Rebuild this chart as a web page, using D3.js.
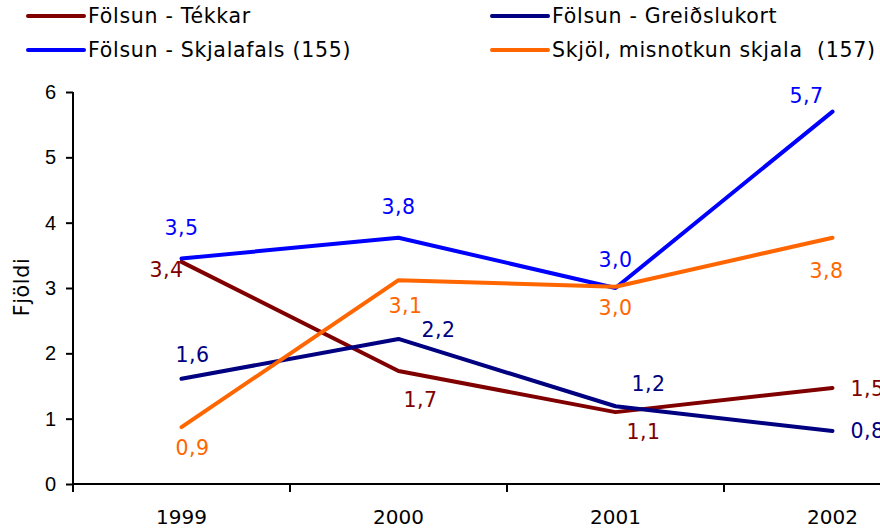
<!DOCTYPE html>
<html>
<head>
<meta charset="utf-8">
<script src="https://cdn.jsdelivr.net/npm/d3@7"></script>
<style>
  body { margin: 0; background: #fff; }
  svg { display: block; font-family: "DejaVu Sans", Verdana, sans-serif; }
  .axis path, .axis line { stroke: #000; stroke-width: 2px; }
  .axis text { font-size: 20px; fill: #000; }
  .legend text, .title { font-size: 20.5px; letter-spacing: 0.7px; white-space: pre; }
</style>
</head>
<body>
<svg id="chart" width="880" height="528"></svg>
<script>
// data
const years = ["1999", "2000", "2001", "2002"];
const tekkar = [3.40, 1.73, 1.10, 1.47];
const greidslukort = [1.61, 2.22, 1.19, 0.81];
const skjalafals = [3.45, 3.77, 3.00, 5.70];
const skjol = [0.87, 3.12, 3.02, 3.77];
const yTicks = [0, 1, 2, 3, 4, 5, 6];

const series = [
    { name: "Fölsun - Tékkar", values: tekkar, color: "#800000" },
    { name: "Fölsun - Greiðslukort", values: greidslukort, color: "#000080" },
    { name: "Fölsun - Skjalafals (155)", values: skjalafals, color: "#0000ff" },
    { name: "Skjöl, misnotkun skjala  (157)", values: skjol, color: "#ff6600" }
];

// where each value label sits relative to its point [dx, dy, anchor]
const labelPos = [
    [[-15, 15, "middle"], [22, 36, "middle"], [28, 27, "middle"], [18, 8, "start"]],
    [[11, -17, "middle"], [40, -2, "middle"], [33, -15, "middle"], [18, 7, "start"]],
    [[0, -24, "middle"], [0, -24, "middle"], [0, -21, "middle"], [-26, -9, "middle"]],
    [[11, 28, "middle"], [7, 33, "middle"], [0, 28, "middle"], [-6, 40, "middle"]]
];

const svg = d3.select("#chart");
const plotLeft = 73, plotTop = 92, plotBottom = 484, band = 217;

const x = d3.scaleBand()
    .domain(years)
    .range([plotLeft, plotLeft + band * years.length]);

const y = d3.scaleLinear()
    .domain([0, 6])
    .range([plotBottom, plotTop]);

// y axis
svg.append("g")
    .attr("class", "axis")
    .attr("transform", `translate(${plotLeft},0)`)
    .call(d3.axisLeft(y).tickValues(yTicks).tickFormat(d3.format("d"))
        .tickSize(7).tickPadding(10).tickSizeOuter(0))
    .call(g => g.select(".domain").attr("d", `M0,${plotTop}V${plotBottom}`));

// x axis, ticks between categories
const xAxis = svg.append("g")
    .attr("class", "axis")
    .attr("transform", `translate(0,${plotBottom})`);

xAxis.append("line")
    .attr("x1", plotLeft).attr("x2", plotLeft + band * years.length);

xAxis.selectAll("line.tick")
    .data(years)
    .enter()
    .append("line")
    .attr("class", "tick")
    .attr("x1", d => x(d)).attr("x2", d => x(d))
    .attr("y1", 0).attr("y2", 8);

xAxis.selectAll("text")
    .data(years)
    .enter()
    .append("text")
    .attr("x", d => x(d) + x.bandwidth() / 2)
    .attr("y", 40)
    .attr("text-anchor", "middle")
    .text(d => d);

// y title
svg.append("text")
    .attr("class", "title")
    .attr("transform", "translate(29,287) rotate(-90)")
    .attr("text-anchor", "middle")
    .text("Fjöldi");

// lines
const line = d3.line()
    .x((d, i) => x(years[i]) + x.bandwidth() / 2)
    .y(d => y(d));

const fmt = d3.format(".1f");

series.forEach((s, si) => {
    svg.append("path")
        .datum(s.values)
        .attr("fill", "none")
        .attr("stroke", s.color)
        .attr("stroke-width", 4)
        .attr("stroke-linejoin", "round")
        .attr("stroke-linecap", "round")
        .attr("d", line);

    svg.append("g").selectAll("text")
        .data(s.values)
        .enter()
        .append("text")
        .attr("x", (d, i) => x(years[i]) + x.bandwidth() / 2 + labelPos[si][i][0])
        .attr("y", (d, i) => y(d) + labelPos[si][i][1])
        .attr("text-anchor", (d, i) => labelPos[si][i][2])
        .attr("fill", s.color)
        .style("font-size", "20.5px")
        .style("letter-spacing", "0.5px")
        .text(d => fmt(d).replace(".", ","));
});

// legend, two columns
const legend = svg.append("g").attr("class", "legend");
const legendCol = [28, 492], legendRow = [16, 50];
const order = [0, 2, 1, 3];

order.forEach((si, k) => {
    const s = series[si];
    const lx = legendCol[si === 0 || si === 2 ? 0 : 1];
    const ly = legendRow[k % 2];
    legend.append("line")
        .attr("x1", lx).attr("x2", lx + 56)
        .attr("y1", ly).attr("y2", ly)
        .attr("stroke", s.color)
        .attr("stroke-width", 4)
        .attr("stroke-linecap", "round");
    legend.append("text")
        .attr("x", lx + 60)
        .attr("y", ly + 7)
        .text(s.name);
});
</script>
</body>
</html>
